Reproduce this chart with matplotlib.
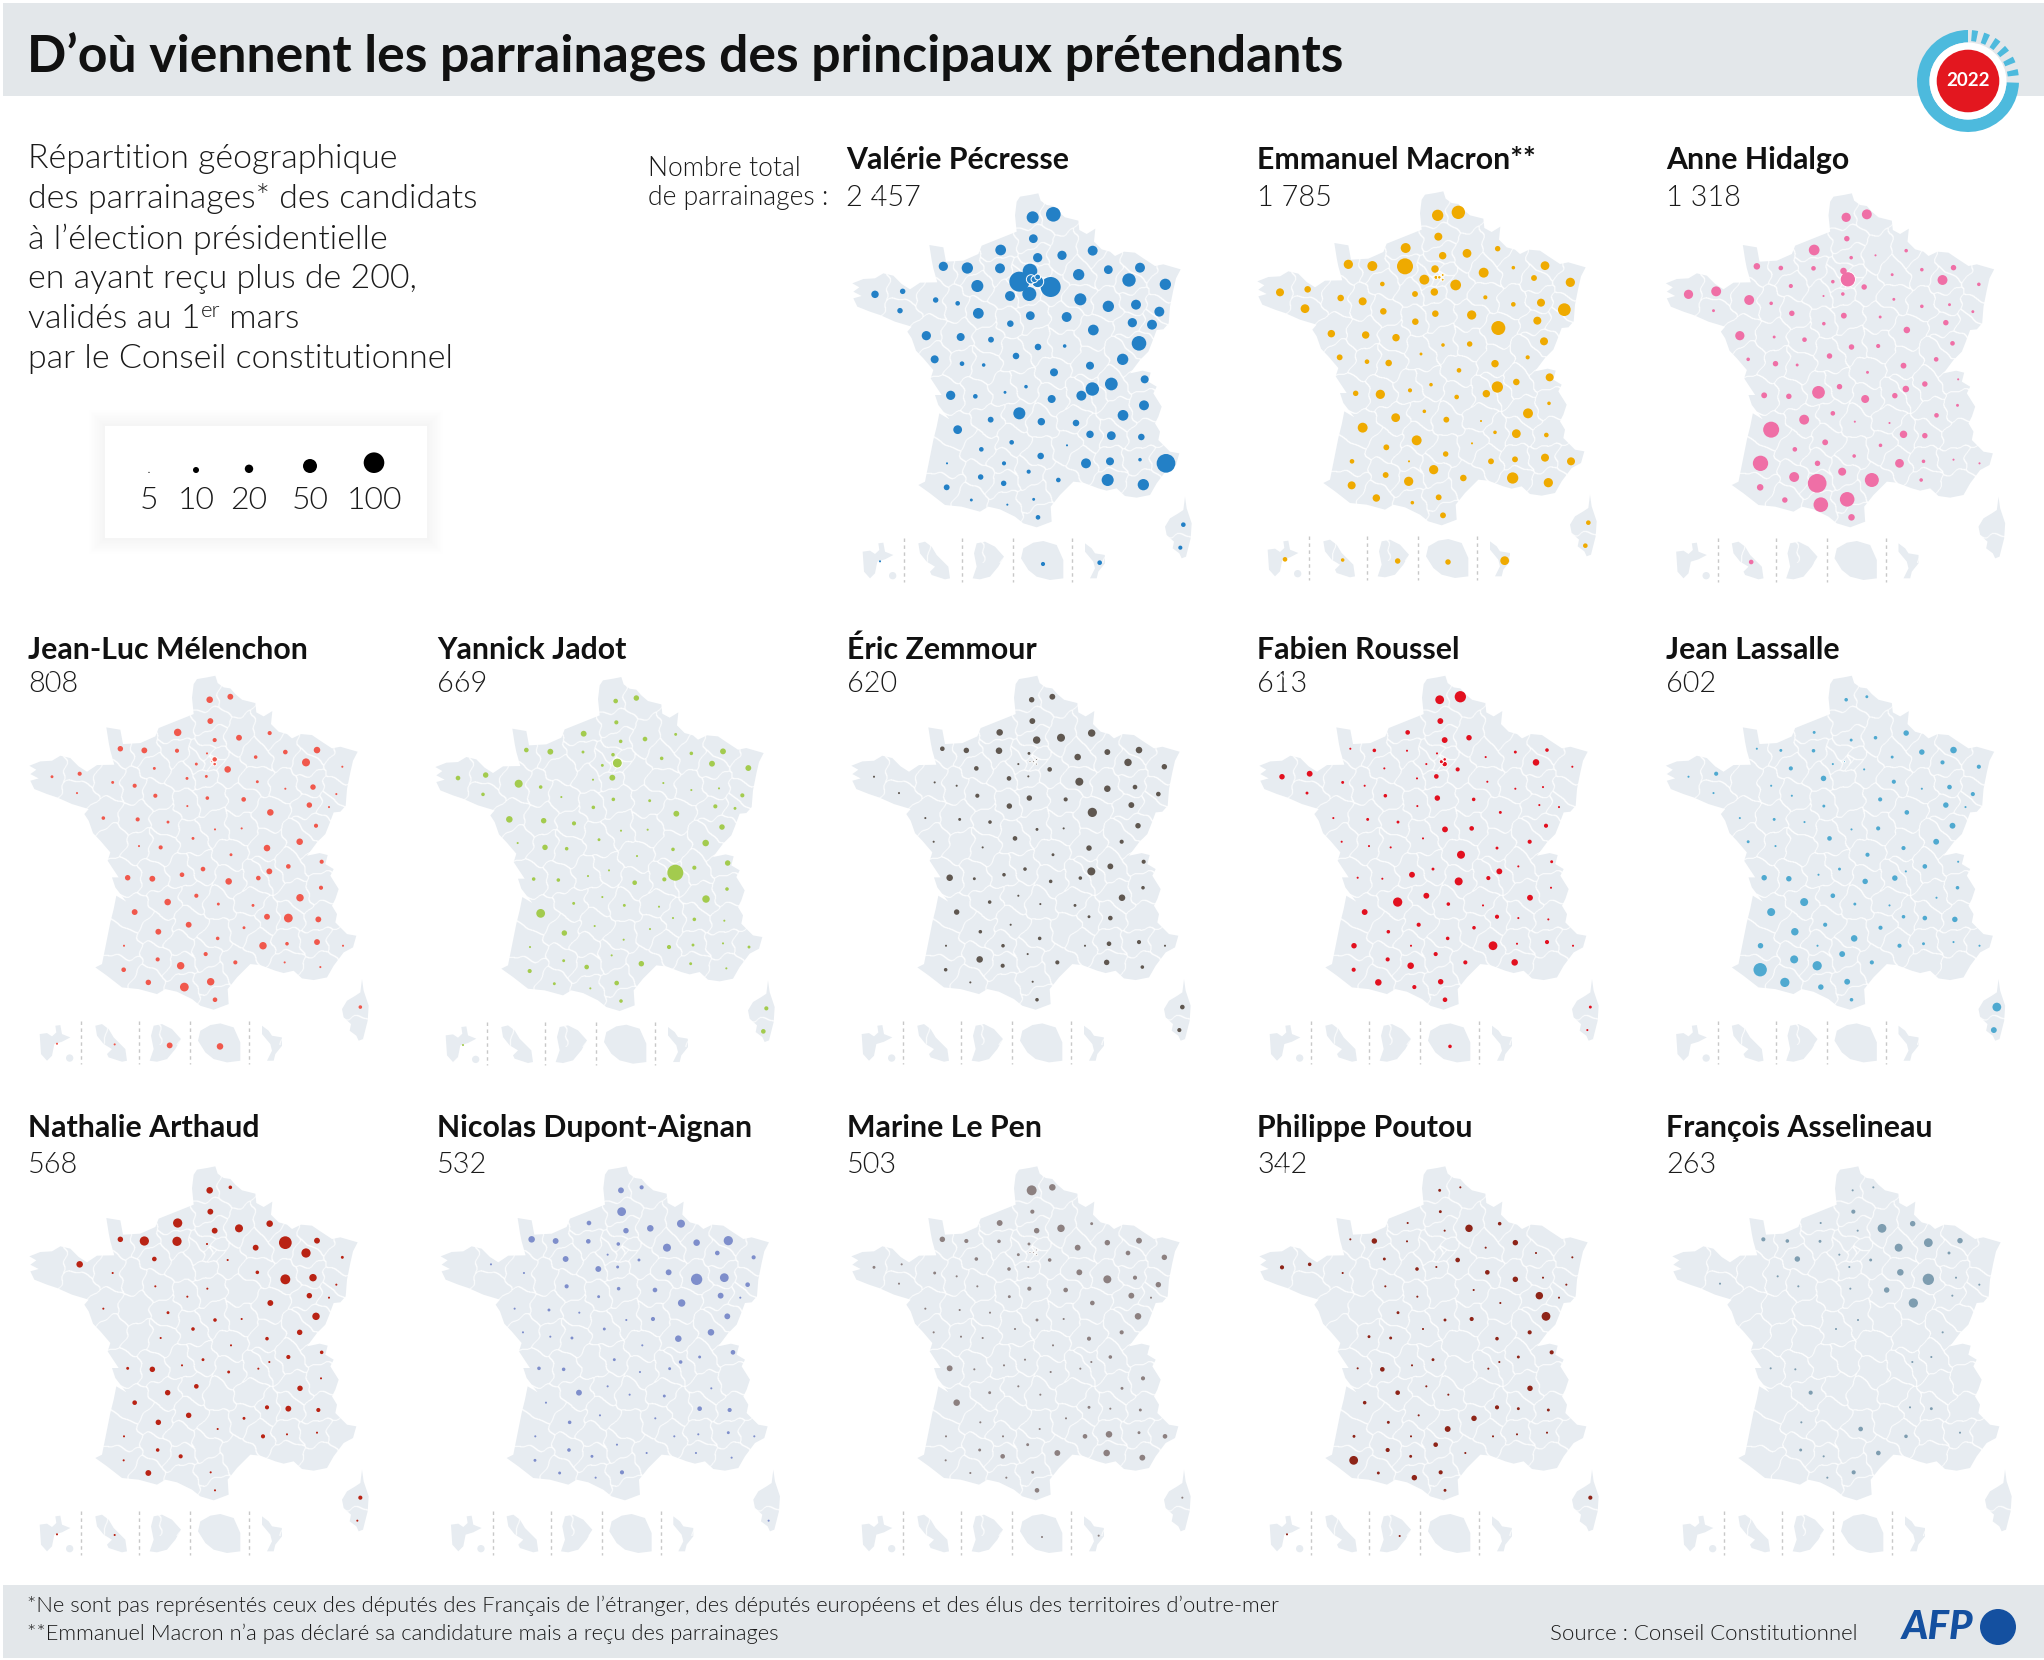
import matplotlib
matplotlib.use('Agg')
import matplotlib.pyplot as plt
import numpy as np
from matplotlib.patches import Polygon, Rectangle, Circle, Wedge

FONT = 'Lato'
MAP_COLOR = '#e7ecf1'
BAND_COLOR = '#e3e7ea'

# Department positions, in units of 1/3 px inside a panel
DEPT_CODES = ['62', '59', '80', '76', '02', '60', '08', '27', '14', '50', '51', '55', '57', '54', '67', '95', '78', '92', '75', '93', '94', '91', '77', '28', '61', '10', '52', '88', '68', '70', '90', '25', '21', '89', '45', '41', '72', '53', '35', '22', '29', '56', '44', '49', '37', '18', '58', '36', '85', '79', '86', '71', '39', '03', '01', '69', '74', '42', '63', '23', '87', '16', '17', '73', '38', '19', '24', '15', '43', '33', '07', '26', '05', '46', '47', '48', '12', '30', '84', '04', '06', '40', '82', '81', '32', '31', '34', '13', '83', '64', '65', '09', '11', '66', '2A', '2B', '971', '972', '973', '974', '976']
DEPT_X = [638, 700, 640, 542, 726, 653, 818, 540, 442, 370, 776, 865, 960, 927, 1036, 630, 598, 633, 643, 653, 653, 628, 692, 570, 472, 781, 865, 948, 1018, 937, 996, 957, 820, 740, 631, 571, 475, 413, 347, 248, 165, 240, 319, 422, 513, 654, 734, 588, 344, 426, 491, 810, 908, 702, 874, 817, 974, 784, 695, 618, 555, 466, 392, 972, 909, 598, 512, 664, 768, 413, 810, 874, 964, 575, 484, 741, 662, 798, 870, 960, 1038, 381, 552, 626, 482, 551, 715, 863, 970, 380, 454, 562, 641, 654, 1081, 1090, 180, 353, 518, 669, 839]
DEPT_Y = [262, 253, 326, 360, 376, 383, 362, 415, 414, 409, 434, 419, 413, 450, 463, 423, 455, 448, 448, 441, 455, 492, 471, 498, 468, 508, 529, 524, 545, 578, 584, 640, 600, 561, 557, 581, 550, 520, 510, 484, 493, 542, 617, 621, 629, 651, 648, 678, 688, 701, 705, 707, 688, 727, 762, 777, 748, 797, 807, 770, 787, 799, 796, 826, 856, 850, 869, 875, 879, 899, 913, 917, 921, 937, 958, 946, 978, 1000, 994, 989, 1000, 1000, 1000, 1025, 1041, 1060, 1050, 1050, 1064, 1072, 1110, 1124, 1108, 1162, 1253, 1184, 1294, 1296, 1299, 1302, 1298]

# France outline and the other land shapes, same units
FRANCE_X = [590, 600, 630, 655, 662, 680, 700, 715, 735, 775, 778, 800, 826, 822, 845, 870, 885, 912, 945, 970, 1005, 1030, 1082, 1068, 1060, 1050, 1046, 1030, 1010, 995, 985, 960, 945, 930, 968, 992, 985, 1010, 1000, 1025, 1015, 1005, 1020, 1015, 1050, 1078, 1068, 1040, 1010, 990, 950, 915, 890, 860, 835, 790, 760, 720, 692, 695, 650, 610, 585, 540, 505, 480, 425, 375, 330, 295, 315, 322, 340, 350, 358, 388, 355, 345, 365, 345, 332, 340, 310, 288, 275, 262, 275, 225, 180, 150, 112, 100, 125, 100, 118, 97, 130, 165, 190, 220, 245, 270, 300, 352, 340, 335, 328, 370, 378, 430, 475, 485, 540, 590, 585]
FRANCE_Y = [215, 200, 195, 190, 212, 225, 228, 245, 262, 272, 300, 312, 296, 335, 358, 365, 378, 365, 368, 385, 408, 403, 418, 445, 480, 530, 580, 598, 600, 640, 665, 690, 710, 730, 722, 728, 755, 770, 790, 830, 860, 880, 905, 930, 965, 970, 1005, 1020, 1060, 1095, 1103, 1098, 1075, 1082, 1075, 1058, 1055, 1095, 1130, 1175, 1192, 1180, 1160, 1138, 1130, 1145, 1130, 1125, 1090, 1065, 1055, 1020, 930, 890, 850, 868, 825, 795, 795, 765, 745, 720, 685, 662, 625, 605, 590, 575, 555, 545, 530, 505, 498, 485, 472, 460, 447, 445, 430, 437, 462, 478, 458, 457, 415, 390, 345, 352, 395, 392, 372, 347, 325, 305, 256]
CORSICA_X = [1095, 1100, 1115, 1112, 1098, 1085, 1078, 1058, 1062, 1040, 1035, 1050, 1075, 1090]
CORSICA_Y = [1100, 1135, 1180, 1225, 1280, 1285, 1270, 1255, 1235, 1215, 1190, 1165, 1150, 1140]
GUADELOUPE_X = [128, 150, 165, 178, 175, 190, 195, 220, 195, 172, 165, 150, 132]
GUADELOUPE_Y = [1265, 1262, 1272, 1260, 1240, 1238, 1265, 1275, 1288, 1295, 1330, 1345, 1325]
MARTINIQUE_X = [295, 315, 335, 350, 385, 390, 375, 335, 330, 345, 320, 300]
MARTINIQUE_Y = [1240, 1235, 1250, 1275, 1310, 1345, 1348, 1335, 1325, 1310, 1295, 1270]
GUYANE_X = [470, 495, 525, 552, 535, 510, 480, 458, 470, 462]
GUYANE_Y = [1240, 1235, 1250, 1280, 1310, 1340, 1348, 1345, 1310, 1270]
REUNION_X = [640, 670, 710, 730, 730, 690, 650, 625, 603, 610]
REUNION_Y = [1238, 1233, 1245, 1290, 1345, 1350, 1340, 1320, 1285, 1255]
MAYOTTE_X = [795, 815, 825, 855, 855, 835, 830, 810, 825, 820, 795]
MAYOTTE_Y = [1240, 1255, 1270, 1275, 1300, 1325, 1345, 1345, 1315, 1295, 1265]
DASH_X = [253, 427, 580, 757]

# Parrainages per department
PECRESSE = {'62':34,'59':50,'80':18,'76':27,'02':20,'60':20,'08':23,'27':23,'14':30,'50':20,'51':30,'55':18,'57':23,'54':42,'67':30,'95':50,'78':94,'92':20,'75':10,'93':8,'94':34,'91':46,'77':94,'28':23,'61':34,'10':34,'52':30,'88':23,'68':23,'70':20,'90':23,'25':50,'21':27,'89':23,'45':18,'41':10,'72':27,'53':5,'35':7,'22':7,'29':13,'56':7,'44':20,'49':15,'37':8,'18':10,'58':3,'36':10,'85':15,'79':5,'86':3,'71':15,'39':30,'03':15,'01':38,'69':42,'74':15,'42':23,'63':15,'23':3,'87':2,'16':5,'17':20,'73':23,'38':27,'19':34,'24':8,'15':13,'43':10,'33':18,'07':13,'26':18,'05':10,'46':5,'47':5,'48':1,'12':10,'30':23,'84':15,'04':3,'06':82,'40':1,'82':4,'81':4,'32':7,'31':7,'34':5,'13':34,'83':30,'64':8,'65':2,'09':1,'11':2,'66':5,'2A':4,'2B':5,'971':1,'974':4,'976':5}
MACRON = {'62':30,'59':42,'80':15,'76':23,'60':13,'02':18,'08':7,'27':60,'14':23,'50':20,'51':23,'55':3,'57':18,'54':8,'67':20,'95':13,'78':23,'92':4,'75':3,'93':2,'94':2,'77':27,'91':13,'28':8,'61':5,'10':4,'52':5,'88':15,'68':38,'70':15,'25':15,'21':46,'89':20,'45':10,'41':10,'72':10,'53':15,'35':10,'22':10,'29':15,'56':18,'44':13,'49':13,'37':13,'18':3,'58':7,'36':2,'85':8,'79':5,'86':10,'71':13,'39':4,'03':5,'01':10,'69':30,'74':15,'42':13,'63':5,'23':3,'87':4,'16':20,'17':7,'73':3,'38':23,'19':3,'24':18,'15':8,'43':1,'33':23,'07':3,'26':18,'05':5,'46':23,'47':8,'48':1,'12':7,'30':8,'84':8,'04':15,'06':15,'40':5,'82':1,'81':20,'32':8,'31':20,'34':10,'13':30,'83':20,'64':15,'65':13,'09':3,'11':8,'66':8,'2A':5,'2B':5,'971':5,'972':3,'973':7,'974':7,'976':18}
HIDALGO = {'62':20,'59':23,'80':7,'76':27,'60':3,'02':1,'08':3,'27':5,'14':5,'50':10,'51':2,'55':3,'57':7,'54':23,'67':3,'95':10,'78':3,'75':55,'77':7,'91':3,'28':1,'61':4,'10':2,'52':3,'88':2,'68':2,'70':7,'89':2,'21':10,'45':8,'41':3,'72':7,'53':3,'35':23,'22':23,'29':20,'56':2,'44':20,'49':2,'37':5,'18':7,'58':4,'36':7,'85':3,'79':7,'86':2,'71':8,'39':5,'25':5,'03':2,'01':7,'69':10,'74':1,'42':7,'63':15,'23':7,'87':38,'16':7,'17':8,'73':2,'38':5,'19':5,'24':23,'15':1,'43':1,'33':60,'07':13,'26':7,'46':8,'47':5,'48':3,'12':3,'30':18,'84':3,'04':1,'06':1,'40':55,'82':7,'81':15,'32':23,'31':82,'34':46,'13':3,'64':10,'65':7,'09':50,'11':50,'66':10,'972':5}
MELENCHON = {'62':10,'59':8,'80':8,'76':13,'60':4,'02':8,'08':4,'27':4,'14':8,'50':7,'51':3,'55':5,'57':10,'54':15,'67':1,'95':1,'78':2,'93':7,'75':1,'94':3,'77':10,'91':2,'28':2,'61':2,'10':2,'52':1,'88':7,'68':1,'70':7,'90':1,'21':10,'89':5,'45':3,'41':1,'72':4,'53':4,'35':2,'22':4,'29':2,'56':1,'44':3,'49':4,'37':2,'18':1,'58':1,'36':2,'79':1,'86':4,'71':10,'39':10,'25':4,'03':2,'01':5,'69':8,'74':4,'42':5,'63':10,'23':5,'87':5,'16':8,'17':7,'73':4,'38':13,'19':4,'24':10,'15':2,'43':2,'33':8,'07':8,'26':18,'05':8,'46':8,'47':8,'48':2,'12':3,'30':13,'84':3,'04':8,'06':1,'40':1,'81':4,'32':4,'31':13,'34':4,'13':1,'83':1,'64':5,'65':7,'09':18,'11':13,'66':5,'2B':3,'971':1,'972':1,'973':8,'974':10}
JADOT = {'62':5,'59':7,'80':4,'76':8,'60':3,'02':5,'08':2,'27':2,'14':8,'50':5,'51':3,'55':3,'57':8,'54':8,'67':8,'95':3,'78':2,'75':23,'91':8,'28':1,'10':1,'52':1,'88':1,'68':4,'70':4,'90':2,'21':8,'89':2,'45':3,'41':3,'72':1,'53':3,'35':15,'22':7,'29':5,'56':3,'44':10,'49':7,'37':4,'18':1,'58':1,'36':2,'85':1,'79':7,'86':3,'71':3,'39':10,'25':7,'03':1,'01':4,'69':60,'74':7,'42':4,'63':5,'23':1,'87':1,'16':3,'17':3,'73':3,'38':13,'19':1,'24':2,'15':2,'43':1,'33':18,'07':1,'26':3,'05':1,'46':1,'47':7,'48':1,'12':1,'30':4,'84':2,'04':1,'06':2,'40':1,'81':1,'32':2,'31':5,'34':7,'13':2,'83':1,'64':4,'65':2,'09':1,'11':5,'66':3,'2A':5,'2B':4,'971':1}
ZEMMOUR = {'62':7,'59':8,'80':8,'76':10,'60':13,'02':15,'08':13,'27':10,'14':7,'50':5,'51':10,'55':8,'57':10,'54':13,'67':7,'95':2,'78':1,'75':1,'92':1,'93':1,'94':1,'77':5,'91':1,'28':5,'61':5,'10':15,'52':10,'88':5,'68':5,'70':8,'21':20,'89':4,'45':7,'41':7,'72':4,'53':1,'35':1,'29':1,'56':1,'44':1,'49':2,'37':3,'18':2,'58':1,'36':5,'85':1,'86':1,'71':7,'39':4,'25':7,'03':2,'01':8,'69':15,'74':4,'42':3,'63':3,'23':3,'87':3,'16':2,'17':10,'73':3,'38':10,'19':1,'24':3,'15':1,'43':2,'33':7,'07':2,'26':5,'46':1,'47':3,'12':3,'30':1,'84':5,'04':4,'06':1,'40':1,'82':3,'81':1,'32':10,'31':4,'34':4,'13':7,'83':3,'64':3,'65':1,'11':1,'66':3,'2B':5,'2A':4}
ROUSSEL = {'62':18,'59':30,'80':8,'76':5,'60':8,'02':7,'27':1,'14':3,'50':1,'51':1,'55':2,'57':3,'54':10,'67':1,'95':1,'78':1,'93':3,'75':4,'94':7,'77':4,'91':5,'28':1,'61':1,'10':1,'52':1,'88':1,'70':1,'90':1,'21':2,'89':3,'45':7,'41':1,'72':3,'53':1,'35':2,'22':8,'29':7,'56':2,'44':1,'49':2,'37':2,'18':8,'58':5,'36':1,'85':1,'79':1,'86':1,'71':2,'39':4,'25':4,'03':15,'01':1,'69':8,'74':2,'42':4,'63':15,'23':2,'87':8,'16':1,'17':1,'73':1,'38':8,'19':8,'24':20,'15':3,'43':1,'33':8,'07':4,'26':1,'05':1,'46':4,'47':3,'48':3,'12':3,'30':18,'84':1,'04':4,'06':1,'40':7,'82':1,'81':4,'32':4,'31':10,'34':4,'13':10,'64':4,'65':10,'09':4,'11':7,'66':5,'2B':2,'2A':1,'974':3}
LASSALLE = {'62':3,'59':2,'76':2,'60':2,'02':3,'08':7,'27':3,'14':2,'50':1,'51':2,'55':7,'57':10,'54':4,'67':4,'78':1,'92':1,'77':1,'28':7,'61':4,'10':4,'52':1,'88':5,'68':4,'70':7,'90':1,'21':5,'89':4,'41':2,'72':1,'53':1,'22':4,'29':1,'56':1,'44':1,'49':2,'37':1,'18':1,'58':4,'36':5,'85':2,'79':1,'71':4,'39':8,'25':8,'03':4,'01':5,'69':1,'74':1,'42':7,'63':7,'23':2,'87':1,'16':7,'17':7,'73':3,'38':1,'19':5,'24':15,'15':2,'43':1,'33':15,'07':3,'26':5,'05':7,'46':4,'47':13,'48':4,'12':10,'30':4,'84':2,'04':1,'06':1,'40':7,'82':1,'81':8,'32':15,'31':20,'34':4,'64':42,'65':20,'09':7,'11':8,'66':3,'2B':18,'2A':8}
ARTHAUD = {'62':10,'59':3,'80':8,'76':20,'60':8,'02':15,'08':10,'27':20,'14':20,'50':7,'51':8,'55':38,'57':8,'54':20,'67':2,'95':1,'77':1,'61':5,'22':10,'35':1,'72':1,'10':3,'52':23,'88':13,'68':1,'70':7,'90':1,'21':8,'45':1,'41':1,'44':1,'37':2,'18':3,'58':1,'36':3,'86':1,'71':3,'39':7,'25':13,'03':1,'01':4,'69':1,'74':3,'42':1,'63':2,'23':2,'87':1,'16':7,'17':2,'73':1,'38':7,'19':5,'24':7,'33':5,'07':4,'26':8,'05':4,'46':7,'47':7,'48':2,'12':1,'30':4,'84':1,'04':1,'40':1,'32':3,'31':4,'64':1,'65':8,'11':1,'66':1,'2B':4,'2A':1,'971':1,'972':1}
DUPONT_AIGNAN = {'62':8,'59':4,'80':18,'76':5,'60':7,'02':10,'08':15,'27':5,'14':8,'50':10,'51':15,'55':10,'57':20,'54':5,'67':4,'95':3,'78':1,'77':2,'91':2,'28':8,'61':8,'10':8,'52':30,'88':18,'68':5,'70':8,'90':1,'21':13,'89':5,'45':3,'41':2,'72':4,'35':1,'22':1,'44':1,'49':2,'37':1,'18':1,'58':4,'36':2,'85':1,'79':1,'86':2,'71':10,'39':10,'25':8,'03':1,'01':2,'69':3,'74':5,'42':2,'63':1,'23':2,'16':3,'17':3,'38':1,'19':1,'24':8,'15':1,'43':2,'33':1,'26':5,'05':4,'47':3,'46':1,'48':1,'30':1,'84':1,'04':2,'06':1,'40':1,'81':1,'32':3,'31':2,'34':1,'13':1,'83':1,'64':2,'65':2,'09':1,'11':4,'2A':1}
LE_PEN = {'62':23,'59':10,'80':4,'76':8,'60':7,'02':13,'08':2,'27':3,'14':4,'50':7,'51':8,'55':7,'57':8,'54':5,'67':7,'95':2,'78':2,'75':1,'92':1,'93':1,'94':1,'77':3,'91':1,'28':3,'61':3,'10':8,'52':15,'88':4,'68':7,'70':8,'90':1,'21':5,'89':5,'45':4,'41':2,'72':1,'53':1,'35':2,'22':1,'29':2,'56':1,'44':1,'49':1,'37':1,'18':2,'58':1,'36':1,'85':1,'79':1,'86':1,'71':4,'39':4,'25':10,'03':1,'01':3,'69':1,'42':1,'63':1,'23':1,'87':1,'16':1,'17':8,'73':4,'38':2,'19':1,'24':2,'15':1,'33':10,'07':2,'26':1,'05':2,'47':1,'48':1,'12':1,'30':5,'84':10,'04':2,'06':5,'40':1,'82':1,'81':2,'32':2,'31':5,'34':8,'13':10,'83':8,'64':1,'65':1,'09':1,'11':2,'66':5,'2B':1,'974':1,'976':1}
POUTOU = {'62':2,'59':1,'80':2,'76':1,'60':1,'02':13,'08':3,'27':1,'14':7,'50':1,'51':1,'55':7,'54':1,'67':1,'77':5,'91':1,'28':3,'61':2,'10':5,'52':7,'88':1,'68':1,'70':13,'90':1,'21':1,'89':1,'72':1,'41':1,'37':2,'18':2,'58':4,'36':1,'25':18,'39':4,'71':3,'79':2,'86':2,'01':2,'69':1,'74':4,'42':1,'23':2,'87':1,'16':5,'17':1,'38':7,'19':1,'24':5,'15':1,'33':3,'07':4,'26':2,'05':2,'46':1,'47':2,'48':7,'12':8,'30':1,'84':1,'04':1,'40':2,'82':1,'81':5,'32':4,'31':2,'34':1,'64':18,'65':2,'09':7,'11':4,'66':2,'2B':4,'971':1,'973':1,'29':4,'22':3,'35':1}
ASSELINEAU = {'62':1,'59':1,'80':4,'76':1,'60':1,'02':18,'08':7,'27':2,'14':3,'50':4,'51':15,'55':18,'57':7,'54':2,'78':1,'77':2,'91':1,'61':7,'10':10,'52':30,'88':1,'68':1,'89':7,'45':1,'72':1,'53':1,'56':1,'21':20,'70':1,'18':1,'36':1,'39':1,'01':1,'69':1,'17':1,'16':1,'24':4,'26':2,'07':1,'47':1,'12':5,'30':3,'04':1,'32':2,'34':5,'31':1,'11':4,'09':1}

CANDIDATES = ['Valérie Pécresse', 'Emmanuel Macron**', 'Anne Hidalgo', 'Jean-Luc Mélenchon', 'Yannick Jadot', 'Éric Zemmour', 'Fabien Roussel', 'Jean Lassalle', 'Nathalie Arthaud', 'Nicolas Dupont-Aignan', 'Marine Le Pen', 'Philippe Poutou', 'François Asselineau']
TOTALS = ['2 457', '1 785', '1 318', '808', '669', '620', '613', '602', '568', '532', '503', '342', '263']
SERIES = [PECRESSE, MACRON, HIDALGO, MELENCHON, JADOT, ZEMMOUR, ROUSSEL, LASSALLE, ARTHAUD, DUPONT_AIGNAN, LE_PEN, POUTOU, ASSELINEAU]
COLORS = ['#2380c6', '#efaa00', '#ef6fa6', '#f0584c', '#a3cb4e', '#5f5750', '#e2101f', '#4fa9d0', '#b92314', '#7e8ecb', '#8c8080', '#8e2418', '#7e9db0']

LEGEND_VALUES = ['5', '10', '20', '50', '100']
LEGEND_X = [149, 196, 249, 310, 374]
LEGEND_R = [0.6, 3, 4.2, 7, 10.3]

# panel corners in pixels, and where the name and total sit
PANEL_LEFT = [820, 1225, 1633.5, -3, 403, 819, 1227, 1633.5, -3, 408.3, 819, 1227, 1640]
PANEL_TOP = [130, 128, 130, 612.4, 613.7, 612.4, 612.4, 612.4, 1103, 1103, 1103, 1103, 1103]
NAME_X = [846, 1257, 1666, 28, 437, 847, 1257, 1666, 28, 437, 847, 1257, 1666]
NAME_Y = [160, 160, 160, 650, 650, 650, 650, 650, 1128, 1128, 1128, 1128, 1128]
TOTAL_Y = [198, 198, 198, 684, 684, 684, 684, 684, 1165, 1165, 1165, 1165, 1165]

plt.rcParams['font.family'] = [FONT, 'DejaVu Sans']
fig = plt.figure(figsize=(20.44, 16.6), dpi=100)

# overlay in pixel coordinates, for bands and text
page = fig.add_axes([0, 0, 1, 1])
page.set_xlim(0, 2044)
page.set_ylim(1660, 0)
page.axis('off')


def label(x, y, s, size, weight=300, ha='left', color='#1a1a1a', va='center'):
    return page.text(x, y, s, fontsize=size, fontweight=weight, ha=ha, va=va, color=color)


page.add_patch(Rectangle((3, 3), 2041, 93, color=BAND_COLOR, lw=0))
page.add_patch(Rectangle((3, 1585), 2041, 73, color=BAND_COLOR, lw=0))
label(27, 57, 'D’où viennent les parrainages des principaux prétendants', 37.3, weight='bold', color='#111111')

intro = ['Répartition géographique', 'des parrainages* des candidats', 'à l’élection présidentielle',
         'en ayant reçu plus de 200,', 'validés au 1', 'par le Conseil constitutionnel']
for i, line in enumerate(intro):
    t = label(28, 159 + i * 40, line, 24.4)
    if i == 4:
        sup = page.annotate('er', xy=(1, 0.78), xycoords=t, fontsize=16, fontweight=300, va='center', color='#1a1a1a')
        page.annotate(' mars', xy=(1, 0.5), xycoords=sup, xytext=(0, -6), textcoords='offset points',
                      fontsize=24.4, fontweight=300, va='center', color='#1a1a1a')

label(648, 169, 'Nombre total', 19.1)
label(648, 198, 'de parrainages :', 19.1)

# legend box with a soft shadow
for i in range(10, 0, -1):
    page.add_patch(Rectangle((105 - i * 1.6, 426 - i * 1.6), 322 + i * 3.2, 112 + i * 3.2, color='black', alpha=0.003, lw=0))
page.add_patch(Rectangle((105, 426), 322, 112, color='white', lw=0))
for x, r, value in zip(LEGEND_X, LEGEND_R, LEGEND_VALUES):
    page.add_patch(Circle((x, 473 - r), r, color='black', lw=0))
    label(x, 500, value, 23, ha='center')

label(27, 1606, '*Ne sont pas représentés ceux des députés des Français de l’étranger, des députés européens et des élus des territoires d’outre-mer', 15.85)
label(27, 1634, '**Emmanuel Macron n’a pas déclaré sa candidature mais a reçu des parrainages', 15.85)
label(1858, 1634, 'Source : Conseil Constitutionnel', 16, ha='right')

# AFP logo
label(1902, 1627, 'AFP', 29, weight='black', color='#1450a0').set_fontstyle('italic')
page.add_patch(Circle((1998, 1627), 18, color='#1450a0', lw=0))

for name, total, nx, ny, ty in zip(CANDIDATES, TOTALS, NAME_X, NAME_Y, TOTAL_Y):
    label(nx, ny, name, 21.8, weight='bold', color='#111111')
    label(nx, ty, total, 20.8)

# department borders: nearest-centre cells on a slightly warped grid
n_metro = DEPT_CODES.index('971')
gx, gy = np.meshgrid(np.arange(80, 1130, 1.5), np.arange(180, 1300, 1.5))
wx = gx + 7 * np.sin(gy / 19) + 4 * np.sin(gy / 7 + gx / 23)
wy = gy + 7 * np.sin(gx / 17) + 4 * np.sin(gx / 8 - gy / 27)
best = np.full(gx.shape, 1e12)
owner = np.zeros(gx.shape, dtype=int)
for k in range(n_metro):
    d = (wx - DEPT_X[k]) ** 2 + (wy - DEPT_Y[k]) ** 2
    owner[d < best] = k
    best = np.minimum(best, d)
edge = np.zeros(gx.shape, dtype=bool)
edge[:, 1:] |= owner[:, 1:] != owner[:, :-1]
edge[1:, :] |= owner[1:, :] != owner[:-1, :]
wide = edge.copy()
wide[:, :-1] |= edge[:, 1:]
wide[:-1, :] |= edge[1:, :]
borders = np.ones(gx.shape + (4,))
borders[..., 3] = wide * 1.0

xs = np.array(DEPT_X)
ys = np.array(DEPT_Y)
land = [(FRANCE_X, FRANCE_Y), (CORSICA_X, CORSICA_Y), (GUADELOUPE_X, GUADELOUPE_Y), (MARTINIQUE_X, MARTINIQUE_Y),
        (GUYANE_X, GUYANE_Y), (REUNION_X, REUNION_Y), (MAYOTTE_X, MAYOTTE_Y)]

for left, top, data, color in zip(PANEL_LEFT, PANEL_TOP, SERIES, COLORS):
    ax = fig.add_axes([left / 2044, 1 - (top + 470) / 1660, 420 / 2044, 470 / 1660])
    ax.set_xlim(0, 1260)
    ax.set_ylim(1410, 0)
    ax.axis('off')
    for lx, ly in land:
        ax.add_patch(Polygon(np.column_stack([lx, ly]), closed=True, color=MAP_COLOR, lw=0))
    ax.add_patch(Circle((218, 1337), 11, color=MAP_COLOR, lw=0))
    ax.imshow(borders, extent=(79.25, 1129.25, 1299.25, 179.25), aspect='auto', interpolation='bilinear', zorder=2)
    ax.set_xlim(0, 1260)
    ax.set_ylim(1410, 0)
    ax.vlines(DASH_X, 1225, 1355, colors='#c8c8c8', linewidth=1, linestyles=(0, (2.5, 2.5)))

    values = np.array([data.get(c, 0) for c in DEPT_CODES], dtype=float)
    order = np.argsort(-values)
    order = order[values[order] > 0]
    # bubble area follows the count, 100 parrainages = 10.3 px radius
    sizes = 2.21 * values[order]
    inner = np.isin(np.array(DEPT_CODES)[order], ['75', '92', '93', '94'])
    ax.scatter(xs[order], ys[order], s=sizes, color=color,
               edgecolors=np.where(inner, 'white', color), linewidths=np.where(inner, 0.7, 0), zorder=3)

# 2022 badge
badge = fig.add_axes([1908 / 2044, 1 - 141 / 1660, 120 / 2044, 120 / 1660])
badge.set_xlim(-60, 60)
badge.set_ylim(-60, 60)
badge.axis('off')
BLUE = '#4dbadd'
badge.add_patch(Wedge((0, 0), 51, 90, 358, width=12.5, color=BLUE, lw=0))
for angle in [82, 68, 54, 40, 25, 10]:
    badge.add_patch(Wedge((0, 0), 51, angle - 3.5, angle + 3.5, width=11, color=BLUE, lw=0))
badge.add_patch(Circle((0, 0), 38.5, color='white', lw=0))
badge.add_patch(Circle((0, 0), 31.3, color='#e3171f', lw=0))
badge.text(0, 0, '2022', color='white', fontsize=13.5, fontweight='bold', ha='center', va='center')

fig.savefig('out.png', dpi=100)
